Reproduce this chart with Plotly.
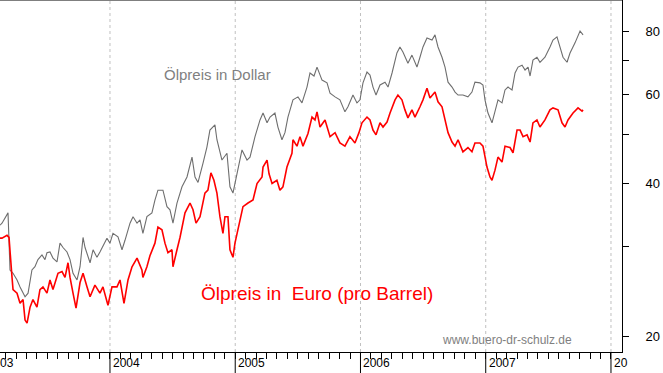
import plotly.graph_objects as go

# ---- data ----
usd_t = [2003.122, 2003.138, 2003.186, 2003.202, 2003.226, 2003.258, 2003.282, 2003.322, 2003.346, 2003.377,
         2003.401, 2003.425, 2003.457, 2003.481, 2003.497, 2003.521, 2003.545, 2003.577, 2003.601, 2003.625,
         2003.657, 2003.681, 2003.705, 2003.737, 2003.761, 2003.785, 2003.801, 2003.841, 2003.865, 2003.896,
         2003.920, 2003.944, 2003.976, 2004.000, 2004.024, 2004.064, 2004.096, 2004.120, 2004.160, 2004.184,
         2004.216, 2004.240, 2004.263, 2004.295, 2004.335, 2004.359, 2004.383, 2004.423, 2004.455, 2004.479,
         2004.503, 2004.535, 2004.575, 2004.615, 2004.655, 2004.679, 2004.703, 2004.743, 2004.774, 2004.798,
         2004.838, 2004.854, 2004.894, 2004.934, 2004.958, 2004.982, 2005.006, 2005.030, 2005.054, 2005.094,
         2005.118, 2005.158, 2005.198, 2005.222, 2005.254, 2005.278, 2005.317, 2005.341, 2005.373, 2005.397,
         2005.421, 2005.461, 2005.501, 2005.533, 2005.573, 2005.597, 2005.629, 2005.653, 2005.693, 2005.733,
         2005.757, 2005.797, 2005.836, 2005.876, 2005.900, 2005.940, 2005.972, 2005.996, 2006.020, 2006.052,
         2006.076, 2006.100, 2006.124, 2006.156, 2006.196, 2006.220, 2006.252, 2006.291, 2006.315, 2006.339,
         2006.379, 2006.411, 2006.451, 2006.475, 2006.499, 2006.531, 2006.571, 2006.595, 2006.619, 2006.651,
         2006.675, 2006.699, 2006.731, 2006.755, 2006.779, 2006.818, 2006.858, 2006.890, 2006.914, 2006.954,
         2006.978, 2006.994, 2007.018, 2007.050, 2007.074, 2007.098, 2007.130, 2007.154, 2007.178, 2007.210,
         2007.234, 2007.258, 2007.290, 2007.314, 2007.338, 2007.354, 2007.377, 2007.409, 2007.433, 2007.473,
         2007.513, 2007.537, 2007.569, 2007.593, 2007.617, 2007.649, 2007.673, 2007.713, 2007.753, 2007.777]
usd_price = [33.1, 33.4, 35.0, 27.0, 26.6, 25.8, 25.0, 23.9, 24.3, 27.0,
             27.4, 28.3, 28.9, 28.3, 29.2, 29.3, 28.5, 28.0, 30.5, 29.9,
             29.3, 28.3, 26.6, 25.8, 27.4, 31.3, 29.9, 27.9, 29.6, 28.6,
             29.3, 30.2, 31.2, 30.5, 31.9, 31.4, 29.6, 30.9, 33.4, 34.4,
             33.4, 33.9, 31.9, 34.4, 35.0, 37.1, 38.8, 38.8, 36.0, 35.5,
             33.4, 36.6, 39.4, 41.2, 45.1, 41.2, 40.2, 43.9, 47.2, 51.0,
             52.2, 48.8, 44.5, 45.9, 39.4, 38.3, 41.0, 44.1, 46.6, 44.5,
             45.1, 49.5, 53.4, 55.1, 52.7, 54.1, 55.1, 51.7, 48.8, 50.4,
             54.1, 58.5, 59.3, 57.7, 62.0, 66.1, 65.2, 67.9, 64.0, 63.2,
             60.3, 59.3, 58.5, 55.4, 56.7, 59.8, 57.7, 58.5, 63.2, 66.4,
             65.5, 62.0, 59.8, 62.6, 63.4, 62.0, 66.1, 72.4, 74.4, 72.7,
             69.1, 71.7, 67.9, 71.0, 74.4, 77.5, 76.8, 78.6, 74.4, 71.0,
             67.9, 63.4, 62.0, 60.6, 59.8, 59.8, 59.3, 60.6, 63.4, 63.2,
             62.6, 58.5, 55.1, 52.7, 55.9, 58.5, 57.7, 61.2, 62.0, 61.2,
             66.1, 67.9, 68.5, 67.0, 67.9, 65.2, 70.1, 71.0, 69.4, 71.0,
             74.4, 76.8, 77.9, 74.4, 71.0, 69.4, 72.4, 75.8, 80.0, 78.6]

eur_t = [2003.122, 2003.138, 2003.178, 2003.194, 2003.218, 2003.226, 2003.258, 2003.282, 2003.306, 2003.322,
         2003.338, 2003.362, 2003.385, 2003.417, 2003.441, 2003.465, 2003.497, 2003.521, 2003.545, 2003.585,
         2003.617, 2003.641, 2003.665, 2003.681, 2003.705, 2003.729, 2003.761, 2003.785, 2003.817, 2003.841,
         2003.880, 2003.920, 2003.944, 2003.984, 2004.016, 2004.056, 2004.080, 2004.112, 2004.144, 2004.176,
         2004.216, 2004.255, 2004.263, 2004.295, 2004.319, 2004.359, 2004.383, 2004.415, 2004.439, 2004.463,
         2004.495, 2004.503, 2004.535, 2004.559, 2004.599, 2004.639, 2004.663, 2004.687, 2004.719, 2004.758,
         2004.782, 2004.806, 2004.830, 2004.854, 2004.878, 2004.902, 2004.918, 2004.942, 2004.958, 2004.982,
         2004.998, 2005.030, 2005.062, 2005.102, 2005.142, 2005.174, 2005.214, 2005.222, 2005.254, 2005.270,
         2005.294, 2005.333, 2005.357, 2005.381, 2005.413, 2005.453, 2005.461, 2005.493, 2005.517, 2005.541,
         2005.581, 2005.613, 2005.637, 2005.653, 2005.677, 2005.717, 2005.757, 2005.797, 2005.836, 2005.876,
         2005.916, 2005.956, 2005.988, 2006.012, 2006.052, 2006.076, 2006.100, 2006.124, 2006.156, 2006.180,
         2006.212, 2006.236, 2006.276, 2006.299, 2006.331, 2006.355, 2006.379, 2006.411, 2006.435, 2006.475,
         2006.499, 2006.531, 2006.555, 2006.595, 2006.619, 2006.651, 2006.675, 2006.699, 2006.731, 2006.755,
         2006.779, 2006.818, 2006.858, 2006.890, 2006.914, 2006.954, 2006.978, 2007.010, 2007.034, 2007.050,
         2007.074, 2007.098, 2007.130, 2007.154, 2007.194, 2007.218, 2007.250, 2007.274, 2007.298, 2007.330,
         2007.354, 2007.377, 2007.409, 2007.433, 2007.473, 2007.513, 2007.537, 2007.577, 2007.609, 2007.633,
         2007.657, 2007.697, 2007.737, 2007.769, 2007.777]
eur_price = [31.2, 31.2, 31.6, 31.3, 26.1, 24.7, 24.3, 23.2, 23.6, 21.5,
             21.2, 22.8, 23.6, 22.8, 24.7, 25.0, 24.3, 25.8, 24.7, 26.6,
             26.8, 26.1, 27.9, 26.1, 24.3, 22.7, 25.5, 26.6, 25.0, 23.9,
             25.2, 24.3, 25.0, 23.0, 25.0, 25.0, 25.8, 23.2, 25.8, 27.4,
             28.5, 27.0, 26.1, 27.4, 28.8, 30.5, 32.8, 32.4, 30.5, 29.2,
             29.6, 27.4, 29.6, 31.3, 35.0, 36.6, 35.5, 33.4, 34.4, 38.3,
             38.8, 42.0, 40.6, 38.3, 34.4, 31.9, 34.4, 34.4, 29.6, 28.6,
             30.5, 33.4, 36.0, 36.6, 37.1, 40.0, 41.2, 43.1, 44.5, 41.8,
             40.0, 40.6, 38.8, 39.4, 43.1, 45.9, 48.8, 47.4, 49.5, 47.4,
             50.2, 54.1, 53.4, 55.4, 51.7, 53.4, 49.5, 50.4, 48.1, 47.4,
             49.5, 48.1, 50.4, 52.7, 54.1, 53.4, 51.0, 49.9, 52.7, 51.7,
             52.9, 55.1, 58.5, 59.8, 58.5, 55.9, 53.9, 55.9, 54.1, 56.7,
             58.5, 61.7, 59.0, 60.6, 58.0, 56.7, 53.4, 50.4, 48.3, 47.4,
             48.8, 46.2, 47.1, 46.2, 48.1, 48.1, 47.4, 43.1, 41.2, 40.6,
             42.5, 45.1, 44.1, 47.4, 47.1, 46.0, 51.0, 51.0, 49.5, 49.9,
             48.3, 52.7, 53.4, 51.7, 53.4, 55.9, 56.4, 55.9, 52.7, 51.7,
             53.4, 55.1, 56.4, 55.6, 55.9]

years = [2004, 2005, 2006, 2007, 2008]
year_labels = ["2004", "2005", "2006", "2007", "20"]
y_ticks = [20, 30, 40, 50, 60, 70, 80]
y_tick_text = ["20", "", "40", "", "60", "", "80"]
months = [2003 + m / 12 for m in range(2, 61)]

FONT = "Liberation Sans, Arial, sans-serif"

fig = go.Figure()
fig.add_trace(go.Scatter(x=usd_t, y=usd_price, mode="lines",
                         line=dict(color="#6e6e6e", width=1.1), hoverinfo="skip"))
fig.add_trace(go.Scatter(x=eur_t, y=eur_price, mode="lines",
                         line=dict(color="#ff0000", width=1.6), hoverinfo="skip"))

shapes = []
for yv in years:
    shapes.append(dict(type="line", xref="x", yref="paper", x0=yv, x1=yv, y0=0, y1=1,
                       line=dict(color="#c0c0c0", width=1, dash="3px,3px"), layer="below"))
    shapes.append(dict(type="line", xref="x", yref="paper", x0=yv, x1=yv, y0=0, y1=-0.06,
                       line=dict(color="#000000", width=1)))
shapes.append(dict(type="line", xref="paper", yref="paper", x0=0, x1=1, y0=1, y1=1,
                   line=dict(color="#000000", width=1)))

annotations = []
for yv, lab in zip(years, year_labels):
    annotations.append(dict(x=yv, y=-0.032, xref="x", yref="paper", text=lab, showarrow=False,
                            xanchor="left", yanchor="middle", xshift=1,
                            font=dict(family=FONT, size=12, color="#000000")))
annotations.append(dict(x=0, y=-0.032, xref="paper", yref="paper", text="03", showarrow=False,
                        xanchor="left", yanchor="middle", xshift=-2,
                        font=dict(family=FONT, size=12, color="#000000")))
annotations.append(dict(x=0.350, y=0.787, xref="paper", yref="paper", text="Ölpreis in Dollar",
                        showarrow=False, xanchor="center", yanchor="middle",
                        font=dict(family=FONT, size=15, color="#808080")))
annotations.append(dict(x=0.510, y=0.165, xref="paper", yref="paper", text="Ölpreis in  Euro (pro Barrel)",
                        showarrow=False, xanchor="center", yanchor="middle",
                        font=dict(family=FONT, size=19, color="#ff0000")))
annotations.append(dict(x=0.815, y=0.035, xref="paper", yref="paper", text="www.buero-dr-schulz.de",
                        showarrow=False, xanchor="center", yanchor="middle",
                        font=dict(family=FONT, size=12, color="#808080")))

fig.update_layout(
    width=663, height=373,
    margin=dict(l=0, r=41, t=0, b=21),
    paper_bgcolor="white", plot_bgcolor="white",
    showlegend=False,
    shapes=shapes, annotations=annotations,
    xaxis=dict(range=[2003.122, 2008.088], showgrid=False, zeroline=False,
               showline=True, linecolor="#000000", linewidth=1,
               tickmode="array", tickvals=months, ticks="outside", ticklen=6,
               tickcolor="#000000", showticklabels=False),
    yaxis=dict(type="log", range=[1.26945, 1.96428], side="right", showgrid=False,
               zeroline=False, showline=True, linecolor="#000000", linewidth=1,
               tickmode="array", tickvals=y_ticks, ticktext=y_tick_text,
               ticks="outside", ticklen=6, tickcolor="#000000",
               ticklabelstandoff=14,
               tickfont=dict(family=FONT, size=13, color="#000000")),
)

fig.write_html("out.html", config={"displayModeBar": False},
               post_script="document.body.style.margin='0';document.body.style.overflow='hidden';")
